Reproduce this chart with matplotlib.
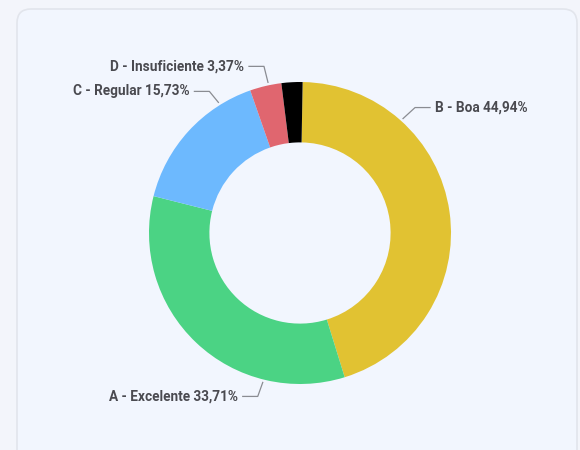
import numpy as np
import matplotlib
matplotlib.use("Agg")
import matplotlib.pyplot as plt
from matplotlib.patches import FancyBboxPatch

# slice data, clockwise from 12 o'clock
labels = ["B - Boa", "A - Excelente", "C - Regular", "D - Insuficiente", ""]
values = [44.94, 33.71, 15.73, 3.37, 2.25]
colors = ["#e1c232", "#4bd384", "#6db9fe", "#e0666f", "#000000"]

# leader lines: angle where they leave the ring, elbow offset (px), text side
label_angle = [48, -104, 122, 102, None]
label_elbow = [(12, 11), (-5, -14), (-9, 11), (-4, 16), None]
label_side = [1, -1, -1, -1, 0]

W, H = 580, 450
fig = plt.figure(figsize=(5.8, 4.5), dpi=100)
fig.patch.set_facecolor("#f3f5fb")
ax = fig.add_axes([0, 0, 1, 1])

# card
card = FancyBboxPatch((17, -20), 560, H - 9 + 20,
                      boxstyle="round,pad=0,rounding_size=14",
                      facecolor="#f2f6fe", edgecolor="#e2e5ec", lw=1.2, zorder=0)
ax.add_patch(card)

cx, cy, R = 300, H - 233, 151
wedges, _ = ax.pie(values, colors=colors, startangle=89, counterclock=False,
                   radius=R, center=(cx, cy), wedgeprops=dict(width=R * 0.4, linewidth=0),
                   frame=True)
ax.set_xlim(0, W)
ax.set_ylim(0, H)
ax.set_aspect("equal")
ax.axis("off")

font = ["Roboto", "DejaVu Sans"]
for lab, val, ang, elb, side in zip(labels, values, label_angle, label_elbow, label_side):
    if not lab:
        continue
    a = np.deg2rad(ang)
    x0, y0 = cx + (R + 3) * np.cos(a), cy + (R + 3) * np.sin(a)
    x1, y1 = x0 + elb[0], y0 + elb[1]
    x2 = x1 + 15 * side
    ax.plot([x0, x1, x2], [y0, y1, y1], color="#8a8c92", lw=0.9, zorder=3)
    txt = f"{lab} {val:.2f}%".replace(".", ",")
    ax.text(x2 + 5 * side, y1, txt, ha="left" if side > 0 else "right",
            va="center", fontsize=9.8, fontweight="bold", color="#4a4a50",
            family=font)

fig.savefig("out.png", dpi=100, facecolor=fig.get_facecolor())
